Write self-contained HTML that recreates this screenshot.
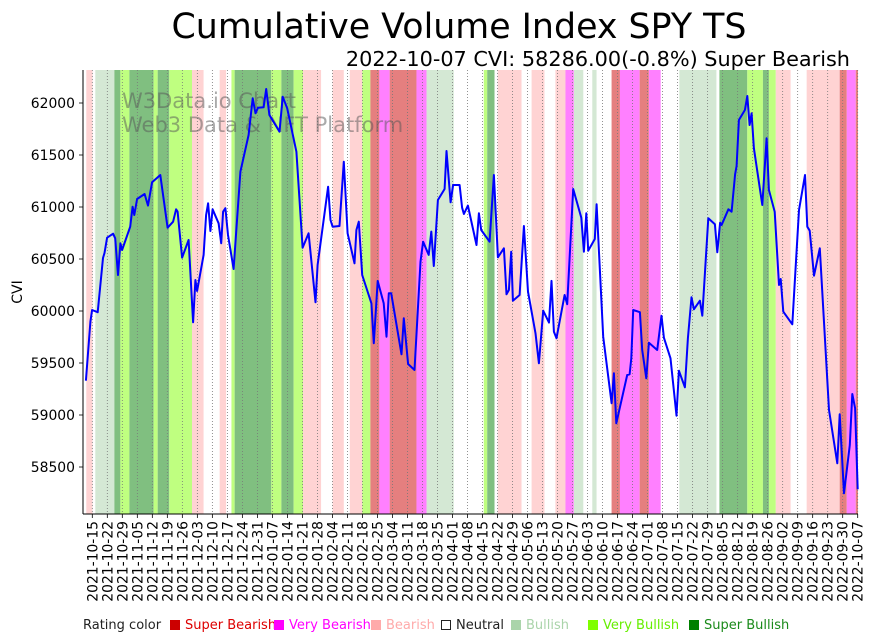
<!DOCTYPE html>
<html><head><meta charset="utf-8"><style>
html,body{margin:0;padding:0;background:#fff;}
svg{display:block;font-family:"DejaVu Sans","Liberation Sans",sans-serif;}
</style></head><body>
<svg id="chart" width="875" height="641" viewBox="0 0 875 641" xmlns="http://www.w3.org/2000/svg">
<text x="459" y="38" font-size="34.8" text-anchor="middle" fill="#000">Cumulative Volume Index SPY TS</text>
<text x="850" y="66" font-size="20.8" text-anchor="end" fill="#000">2022-10-07 CVI: 58286.00(-0.8%) Super Bearish</text>
<g id="bands"></g>
<g id="grid"></g>
<text x="122" y="108" font-size="21" fill="#555" fill-opacity="0.5">W3Data.io Chart</text>
<text x="122" y="132" font-size="21" fill="#555" fill-opacity="0.5">Web3 Data &amp; NFT Platform</text>
<path id="line" fill="none" stroke="#0000ff" stroke-width="2" stroke-linejoin="round"/>
<g id="axes"></g>
<text transform="translate(22,292) rotate(-90)" font-size="14" text-anchor="middle">CVI</text>
<g font-size="13">
<text x="83" y="629" fill="#222">Rating color</text>
<rect x="170" y="620" width="10" height="10" fill="#cc0000"/>
<text x="185" y="629" fill="#dd0000">Super Bearish</text>
<rect x="274" y="620" width="10" height="10" fill="#ff00ff"/>
<text x="289" y="629" fill="#ff00ff">Very Bearish</text>
<rect x="371" y="620" width="10" height="10" fill="#ffaaaa"/>
<text x="386" y="629" fill="#ffaaaa">Bearish</text>
<rect x="441.5" y="620.5" width="9" height="9" fill="#fff" stroke="#222"/>
<text x="456" y="629" fill="#222">Neutral</text>
<rect x="511" y="620" width="10" height="10" fill="#aad4aa"/>
<text x="526" y="629" fill="#aad4aa">Bullish</text>
<rect x="588" y="620" width="10" height="10" fill="#7fff00"/>
<text x="603" y="629" fill="#66ee00">Very Bullish</text>
<rect x="689" y="620" width="10" height="10" fill="#008000"/>
<text x="704" y="629" fill="#1a8a1a">Super Bullish</text>
</g>
</svg>
<script>
// day offsets from 2021-10-15
const days = [-3,-0.9,-0.1,2.5,5,5.7,6.9,9.7,10.7,12,13.1,13.9,17.7,18.8,19.6,20.9,24.4,26,27.9,31.7,35.1,37.7,39.1,39.8,41.9,44.9,47,48.1,48.9,51.9,53.1,54,55.1,56.1,58.9,60.1,61,62.1,63.3,65.9,69.1,72.9,74.8,76.1,77.3,79.9,81.1,82.6,87.3,88.8,90.9,95.2,98.1,100.9,104.1,105.1,110,111.1,112.1,115.3,117.3,119.1,122.3,123.2,124.3,125.9,130.2,131.3,133.1,135.9,137.2,138.3,139.4,144.2,145.3,147.3,150.3,153.1,154.3,156.9,158.1,159.3,161.2,164.3,165.2,167.1,168.3,171.3,172.5,173.3,175.2,179.2,180.3,181.4,185.3,187.3,189.2,192,193.2,194.3,195.4,196.2,199.3,201.3,203.2,206.7,208.3,210.3,213,214.2,215.3,216.5,220.3,221.5,224.3,228.1,229.3,230.4,231.3,234.4,235.2,238.3,242.2,243.3,244.4,249.5,250.6,251.4,252.3,255.4,256.5,258.4,259.6,263.5,265.5,266.6,269.7,272.5,273.6,276.4,277.8,279.5,280.6,283.4,284.5,287.3,290.4,291.5,292.8,293.5,296.7,298.2,299.8,300.5,301.6,304.4,305.5,306.6,307.5,308.6,312.5,314.5,315.6,318.3,320.3,321.1,322.3,326.5,329.6,332.4,333.5,334.6,336.6,339.3,343.6,347.5,348.6,350.6,353.3,354.5,355.8,357];
const cvi = [59330,59897,60010,59988,60510,60558,60705,60743,60699,60346,60651,60587,60811,61003,60923,61077,61125,61013,61238,61308,60801,60859,60978,60955,60513,60683,59891,60298,60192,60539,60923,61036,60769,60978,60843,60651,60955,60988,60731,60404,61339,61692,62045,61901,61955,61959,62135,61885,61724,62061,61949,61532,60609,60747,60084,60442,61195,60875,60811,60817,61436,60747,60459,60779,60859,60346,60074,59690,60289,60074,59753,60170,60170,59584,59930,59490,59433,60474,60666,60539,60763,60433,61067,61173,61538,61045,61212,61212,60993,60933,61013,60635,60939,60779,60666,61308,60516,60603,60161,60202,60570,60099,60154,60817,60186,59786,59497,60003,59888,60289,59801,59738,60154,60065,61173,60897,60570,60939,60580,60692,61026,59753,59113,59401,58920,59385,59391,59545,60010,59988,59625,59353,59695,59625,59955,59743,59545,58993,59426,59266,59738,60132,60016,60099,59955,60891,60834,60564,60849,60827,60978,60955,61314,61394,61837,61933,62067,61788,61901,61564,61019,61661,61164,60955,60250,60308,59993,59872,60971,61308,60811,60772,60339,60603,59048,58536,59007,58247,58712,59202,59065,58286];
// rating bands: start day, end day, rating (0 super bearish .. 6 super bullish)
const bandStart = [-2.8,1.4,10.3,13.1,17.3,28.6,30.5,35.9,46.5,59.4,64.9,66.4,83.5,88.2,93.9,98.3,112.1,120.1,125.9,129.7,133.9,138.7,151.2,155.9,182.6,184.2,189.1,204.9,216,220.7,224.6,233.2,242.2,246.1,255.3,259.6,273.8,292.5,305.5,312.8,315.6,318.8,333.2,348.6,351.9,356.1];
const bandEnd = [0.1,10.3,13.1,17.3,28.6,30.5,35.9,46.5,51.9,62.4,66.4,83.5,88.2,93.9,98.3,106.7,117.3,125.9,129.7,133.9,138.7,151.2,155.9,168.6,184.2,187.6,200.2,210.9,220.7,224.6,229,235.2,246.1,255.3,259.6,265.1,291.1,305.5,312.8,315.6,318.8,325.7,348.6,351.9,356.1,357.5];
const bandRating = [2,4,6,5,6,5,6,5,2,2,5,6,5,6,5,2,2,2,5,0,1,0,1,4,5,6,2,2,2,1,4,4,0,1,0,1,4,6,5,6,5,2,2,0,1,0];
const yTicks = [58500,59000,59500,60000,60500,61000,61500,62000];
const ratingColors = ['#e57f7f','#ff80ff','#ffd3d3','#d4e8d4','#d4e8d4','#bfff80','#80bf80'];

const X0=83, X1=858, Y0=70, Y1=514;
const x = d => 92.3 + d*(857.7-92.3)/357;
const y = v => 103 + (62000-v)*52/500;
const NS='http://www.w3.org/2000/svg';
function mk(tag, attrs, parent){const e=document.createElementNS(NS,tag);for(const k in attrs)e.setAttribute(k,attrs[k]);parent.appendChild(e);return e;}

const bands=document.getElementById('bands');
bandStart.forEach((s,i)=>{
  const xa=Math.max(X0,x(s)), xb=Math.min(X1,x(bandEnd[i]));
  const r=mk('rect',{x:xa,y:Y0,width:xb-xa,height:Y1-Y0,fill:ratingColors[bandRating[i]]},bands);
  
  
});

const grid=document.getElementById('grid');
const axes=document.getElementById('axes');
const start=new Date(Date.UTC(2021,9,15));
for(let w=0; w<=51; w++){
  const d=w*7;
  const dt=new Date(start.getTime()+d*86400000);
  const label=dt.toISOString().slice(0,10);
  const px=x(d);
  const gl=mk('line',{x1:px,x2:px,y1:Y0,y2:Y1,stroke:'#777','stroke-width':0.8,'stroke-dasharray':'1,2'},grid);
  
  
  const tk=mk('line',{x1:px,x2:px,y1:Y1,y2:Y1+4,stroke:'#000','stroke-width':0.8},axes);
  
  
  const t=mk('text',{transform:`translate(${px+5},${Y1+7}) rotate(-90)`,'font-size':13.9,'text-anchor':'end'},axes);
  t.textContent=label;
  
  
}
yTicks.forEach(v=>{
  const py=y(v);
  const tk=mk('line',{x1:X0-4,x2:X0,y1:py,y2:py,stroke:'#000','stroke-width':0.8},axes);
  
  
  const t=mk('text',{x:X0-8,y:py+5,'font-size':13.9,'text-anchor':'end'},axes);
  t.textContent=v;
  
  
});
const ys=mk('line',{x1:X0,x2:X0,y1:Y0,y2:Y1,stroke:'#000','stroke-width':1},axes);


const xs=mk('line',{x1:X0,x2:X1,y1:Y1,y2:Y1,stroke:'#000','stroke-width':1},axes);



document.getElementById('line').setAttribute('d', days.map((d,i)=>(i?'L':'M')+Math.max(X0,x(d)).toFixed(1)+','+y(cvi[i]).toFixed(1)).join(''));
</script>
</body></html>
